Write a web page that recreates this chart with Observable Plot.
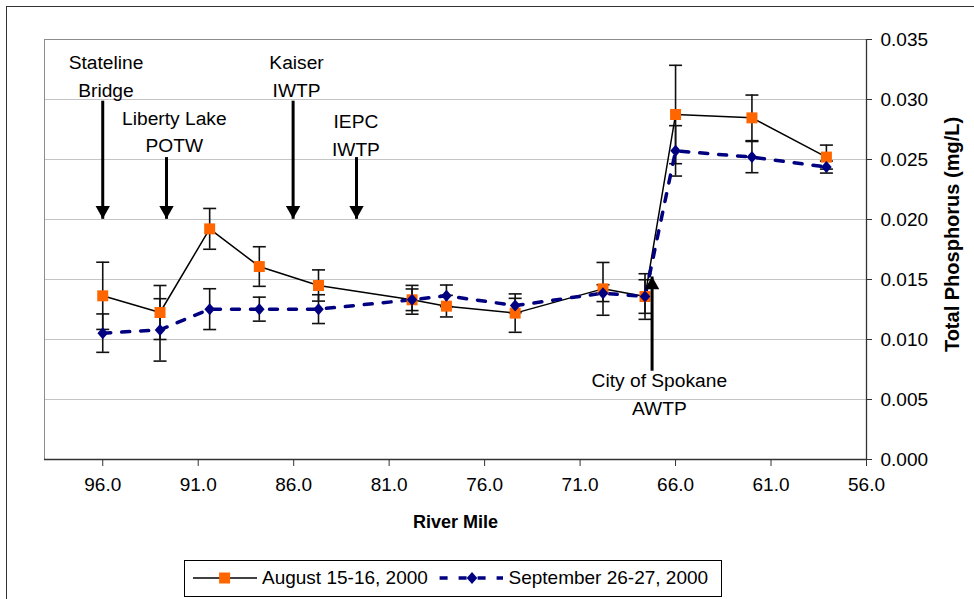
<!DOCTYPE html>
<html><head><meta charset="utf-8">
<script src="https://cdn.jsdelivr.net/npm/d3@7"></script>
<script src="https://cdn.jsdelivr.net/npm/@observablehq/plot@0.6"></script>
<style>
html,body{margin:0;padding:0;background:#fff;overflow:hidden}
#wrap{position:relative;width:974px;height:599px;overflow:hidden;font-family:"Liberation Sans",Arial,sans-serif}
#border{position:absolute;left:6px;top:6px;width:1200px;height:800px;border-left:1.5px solid #333;border-top:1.5px solid #333}
#chart{position:absolute;left:0;top:0}
#legend{position:absolute;left:184px;top:560px;width:538px;height:37px;border:1px solid #000;box-sizing:border-box;background:#fff;font-size:19px;color:#000}
#legend svg{position:absolute;left:0;top:0}
#legend span{position:absolute;top:6px;white-space:nowrap;line-height:22px}
g[aria-label="annotation labels"] text{letter-spacing:0.4px}
</style></head><body>
<div id="wrap"><div id="border"></div><div id="chart"></div><div id="legend"></div></div>
<script>
// ---- data ----
const riverMile = [96.0, 93.0, 90.4, 87.8, 84.7, 79.8, 78.0, 74.4, 69.8, 67.6, 66.0, 62.0, 58.1];
const augTP  = [0.01364, 0.01225, 0.01922, 0.01608, 0.0145, 0.01331, 0.01278, 0.0122, 0.01422, 0.01358, 0.02875, 0.02847, 0.0252];
const augErr = [0.0028, 0.00225, 0.0017, 0.00165, 0.0013, 0.0012, 0.0009, 0.0016, 0.0022, 0.0019, 0.0041, 0.0019, 0.001];
const sepTP  = [0.01053, 0.0108, 0.01253, 0.01253, 0.01253, 0.01331, 0.01364, 0.01283, 0.01386, 0.01358, 0.02572, 0.0252, 0.02437];
const sepErr = [0.0016, 0.0026, 0.0017, 0.001, 0.0012, 0.0009, 0.0009, 0.0006, 0.0007, 0.0014, 0.0021, 0.0013, 0.0005];
const seriesNames = ["August 15-16, 2000", "September 26-27, 2000"];
const xTicks = [96, 91, 86, 81, 76, 71, 66, 61, 56];
const yTicks = [0, 0.005, 0.01, 0.015, 0.02, 0.025, 0.03, 0.035];
const xTitle = "River Mile";
const yTitle = "Total Phosphorus (mg/L)";
// annotations (arrows with labels)
const annoLabels = ["Stateline\nBridge", "Liberty Lake\nPOTW", "Kaiser\nIWTP", "IEPC\nIWTP", "City of Spokane\nAWTP"];
const annoMile   = [96.0, 92.66, 86.03, 82.71, 67.23];
const annoTail   = [0.0299, 0.0252, 0.0299, 0.0252, 0.0074];
const annoTip    = [0.02006, 0.02006, 0.02006, 0.02006, 0.01525];
const labelMile  = [95.83, 92.25, 85.85, 82.74, 66.85];
const labelY     = [0.03025, 0.02561, 0.03025, 0.02533, 0.00375];

const data = riverMile.map((m, i) => ({mile: m, aug: augTP[i], augErr: augErr[i], sep: sepTP[i], sepErr: sepErr[i]}));
const anno = annoLabels.map((t, i) => ({label: t, mile: annoMile[i], tail: annoTail[i], tip: annoTip[i], lx: labelMile[i], ly: labelY[i], down: annoTip[i] < annoTail[i]}));

const ORANGE = "#FF6600", NAVY = "#000080";
const capSym = {draw(ctx) { ctx.moveTo(-6.5, 0); ctx.lineTo(6.5, 0); }};
const diamondSym = {draw(ctx) { ctx.moveTo(0, -6); ctx.lineTo(5.3, 0); ctx.lineTo(0, 6); ctx.lineTo(-5.3, 0); ctx.closePath(); }};
const triDown = {draw(ctx) { ctx.moveTo(0, 0); ctx.lineTo(-7.2, -12.8); ctx.lineTo(7.2, -12.8); ctx.closePath(); }};
const triUp = {draw(ctx) { ctx.moveTo(0, 0); ctx.lineTo(-7.2, 12.8); ctx.lineTo(7.2, 12.8); ctx.closePath(); }};

const chart = Plot.plot({
  width: 974, height: 545,
  marginLeft: 44, marginRight: 108, marginTop: 39, marginBottom: 86,
  style: {fontFamily: "'Liberation Sans', Arial, sans-serif", fontSize: "19px", background: "transparent", color: "#000"},
  x: {domain: [99.05, 56]},
  y: {domain: [0, 0.035]},
  marks: [
    Plot.gridY(yTicks, {stroke: "#c4c4c4", strokeOpacity: 1}),
    Plot.frame({stroke: "#8c8c8c"}),
    Plot.ruleY([0], {stroke: "#333", strokeWidth: 1.3}),
    Plot.ruleX([56], {stroke: "#333", strokeWidth: 1.3}),
    Plot.axisX(xTicks, {tickFormat: d3.format(".1f"), tickSize: 7, tickPadding: 11, label: null, stroke: "#333"}),
    Plot.axisY(yTicks, {anchor: "right", tickFormat: d3.format(".3f"), tickSize: 5, tickPadding: 9, label: null, stroke: "#333"}),
    // error bars
    Plot.ruleX(data, {x: "mile", y1: d => d.aug - d.augErr, y2: d => d.aug + d.augErr, stroke: "#111", strokeWidth: 1.6}),
    Plot.dot(data, {x: "mile", y: d => d.aug - d.augErr, symbol: capSym, fill: "none", stroke: "#111", strokeWidth: 1.6}),
    Plot.dot(data, {x: "mile", y: d => d.aug + d.augErr, symbol: capSym, fill: "none", stroke: "#111", strokeWidth: 1.6}),
    Plot.ruleX(data, {x: "mile", y1: d => d.sep - d.sepErr, y2: d => d.sep + d.sepErr, stroke: "#111", strokeWidth: 1.6}),
    Plot.dot(data, {x: "mile", y: d => d.sep - d.sepErr, symbol: capSym, fill: "none", stroke: "#111", strokeWidth: 1.6}),
    Plot.dot(data, {x: "mile", y: d => d.sep + d.sepErr, symbol: capSym, fill: "none", stroke: "#111", strokeWidth: 1.6}),
    // lines
    Plot.line(data, {x: "mile", y: "aug", stroke: "#000", strokeWidth: 1.5}),
    Plot.line(data, {x: "mile", y: "sep", stroke: NAVY, strokeWidth: 3.5, strokeDasharray: "8,11"}),
    // markers
    Plot.dot(data, {x: "mile", y: "aug", symbol: "square", r: 6.2, fill: ORANGE, stroke: "none"}),
    Plot.dot(data, {x: "mile", y: "sep", symbol: diamondSym, fill: NAVY, stroke: "none"}),
    // annotation arrows
    Plot.link(anno, {x1: "mile", x2: "mile", y1: "tail", y2: "tip", stroke: "#000", strokeWidth: 3}),
    Plot.dot(anno.filter(d => d.down), {x: "mile", y: "tip", symbol: triDown, fill: "#000", stroke: "none"}),
    Plot.dot(anno.filter(d => !d.down), {x: "mile", y: "tip", symbol: triUp, fill: "#000", stroke: "none"}),
    Plot.text(anno, {x: "lx", y: "ly", text: "label", lineAnchor: "bottom", textAnchor: "middle", lineHeight: 1.42, fontSize: 19.2, fill: "#000", ariaLabel: "annotation labels"}),
    // axis titles
    Plot.text([xTitle], {text: d => d, frameAnchor: "bottom", textAnchor: "middle", lineAnchor: "middle", dy: 62.5, fontWeight: "bold", fontSize: 18, fill: "#000"}),
    Plot.text([yTitle], {text: d => d, frameAnchor: "right", textAnchor: "middle", lineAnchor: "middle", rotate: -90, dx: 86, dy: -15, fontWeight: "bold", fontSize: 20, fill: "#000"})
  ]
});
document.getElementById("chart").appendChild(chart);

// legend
const lg = document.getElementById("legend");
const ns = "http://www.w3.org/2000/svg";
const sv = document.createElementNS(ns, "svg");
sv.setAttribute("width", 538); sv.setAttribute("height", 37);
sv.innerHTML =
  `<line x1="8" x2="72" y1="17" y2="17" stroke="#000" stroke-width="1.5"/>` +
  `<rect x="34.1" y="11.5" width="11" height="11" fill="${ORANGE}"/>` +
  `<line x1="254.6" x2="318" y1="17" y2="17" stroke="${NAVY}" stroke-width="3.5" stroke-dasharray="8,11"/>` +
  `<path d="M287,11 L292.3,17 L287,23 L281.7,17 Z" fill="${NAVY}"/>`;
lg.appendChild(sv);
[[seriesNames[0], 77], [seriesNames[1], 323.5]].forEach(([t, x]) => {
  const s = document.createElement("span");
  s.textContent = t; s.style.left = x + "px";
  lg.appendChild(s);
});
</script>
</body></html>
